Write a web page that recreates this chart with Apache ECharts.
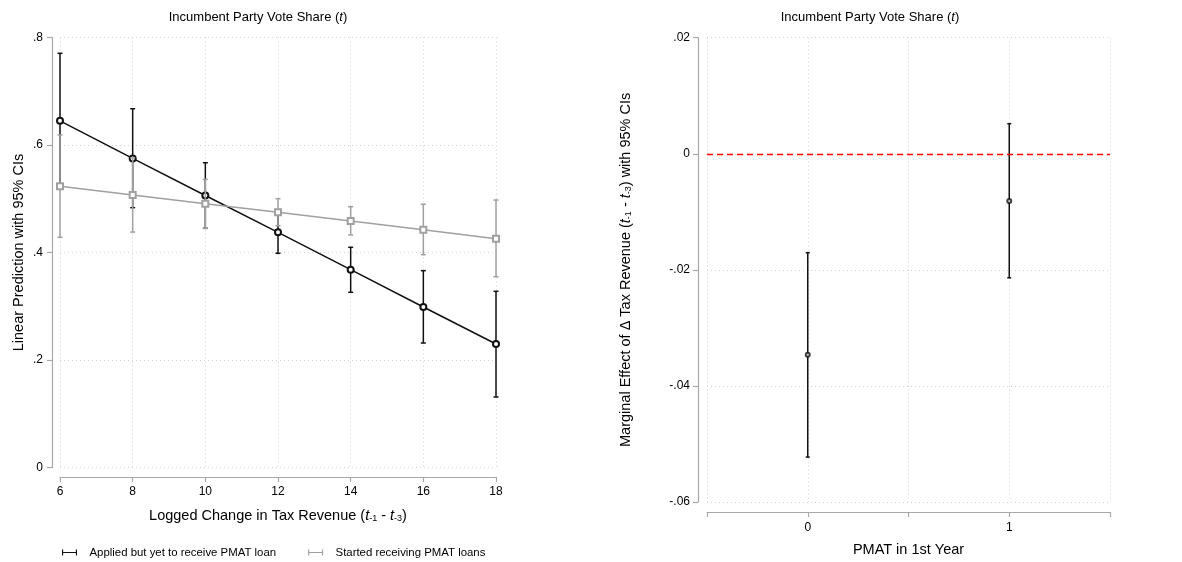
<!DOCTYPE html>
<html>
<head>
<meta charset="utf-8">
<script src="https://cdn.jsdelivr.net/npm/echarts@6/dist/echarts.min.js"></script>
<style>html,body{margin:0;padding:0;background:#fff}#c{width:1182px;height:562px}</style>
</head>
<body>
<div id="c"></div>
<script>
// ---- Left panel data ----
const leftX = [6, 8, 10, 12, 14, 16, 18];
const appliedMean = [0.645, 0.575, 0.506, 0.4375, 0.368, 0.2986, 0.2298];
const appliedLow  = [0.519, 0.4834, 0.445, 0.3985, 0.326, 0.2316, 0.1312];
const appliedHigh = [0.7706, 0.6675, 0.567, 0.4765, 0.4097, 0.3662, 0.3278];
const startedMean = [0.5231, 0.507, 0.4908, 0.4748, 0.4586, 0.4425, 0.4257];
const startedLow  = [0.4283, 0.438, 0.445, 0.4499, 0.4326, 0.3959, 0.355];
const startedHigh = [0.6186, 0.576, 0.536, 0.5001, 0.4852, 0.4897, 0.4977];
const leftYLabels = ['0', '.2', '.4', '.6', '.8'];
const seriesNames = ['Applied but yet to receive PMAT loan', 'Started receiving PMAT loans'];

// ---- Right panel data ----
const rightX = [0, 1];
const effMean = [-0.03465, -0.00815];
const effLow  = [-0.05226, -0.02137];
const effHigh = [-0.01704, 0.00518];
const rightYLabels = ['-.06', '-.04', '-.02', '0', '.02'];
const rightXLabels = {'0': '0', '1': '1'};

const FONT = 'Arial, "Liberation Sans", sans-serif';
const AXIS_GRAY = '#a8a8a8';
const GRID_GRAY = '#d0d0d0';
const BLACK = '#111111';
const GRAY = '#a0a0a0';
const NAME_SIZE = 14.5;

function errRender(color, cap, lw) {
  return function (params, api) {
    const x = api.value(0), lo = api.value(1), hi = api.value(2);
    const a = api.coord([x, hi]), b = api.coord([x, lo]);
    const st = {stroke: color, lineWidth: lw};
    return {type: 'group', children: [
      {type: 'line', shape: {x1: a[0], y1: a[1], x2: b[0], y2: b[1]}, style: st},
      {type: 'line', shape: {x1: a[0] - cap, y1: a[1], x2: a[0] + cap, y2: a[1]}, style: st},
      {type: 'line', shape: {x1: b[0] - cap, y1: b[1], x2: b[0] + cap, y2: b[1]}, style: st}
    ]};
  };
}
const zip3 = (x, lo, hi) => x.map((v, i) => [v, lo[i], hi[i]]);
const zip2 = (x, y) => x.map((v, i) => [v, y[i]]);

const richSub = {
  it: {fontStyle: 'italic', fontSize: NAME_SIZE, fontFamily: FONT, color: '#000'},
  sub: {fontSize: 9, fontFamily: FONT, color: '#000', verticalAlign: 'bottom', lineHeight: 12},
};
const capIcon = 'path://M0,0H1.5V8H0Z M1.5,3.25H18.5V4.75H1.5Z M18.5,0H20V8H18.5Z';

const axisCommon = {
  axisLine: {show: true, onZero: false, lineStyle: {color: AXIS_GRAY, width: 1.2}},
  axisTick: {show: true, length: 5, lineStyle: {color: AXIS_GRAY, width: 1.2}},
  splitLine: {show: true, lineStyle: {color: GRID_GRAY, type: [1, 3], width: 1}},
  axisLabel: {color: '#000', fontSize: 12, fontFamily: FONT},
  nameTextStyle: {color: '#000', fontSize: NAME_SIZE, fontFamily: FONT, rich: richSub},
};
const titleStyle = {fontSize: 13, fontWeight: 'normal', color: '#000', fontFamily: FONT,
  rich: {it: {fontStyle: 'italic', fontSize: 13, fontFamily: FONT, color: '#000'}}};

const option = {
  backgroundColor: '#fff',
  animation: false,
  title: [
    {text: 'Incumbent Party Vote Share ({it|t})', left: 253, top: 6, textAlign: 'center', textStyle: titleStyle},
    {text: 'Incumbent Party Vote Share ({it|t})', left: 865, top: 6, textAlign: 'center', textStyle: titleStyle}
  ],
  legend: {
    left: 62, top: 547, padding: 0, itemWidth: 20, itemHeight: 6, itemGap: 32,
    textStyle: {fontSize: 11.4, color: '#000', fontFamily: FONT, padding: [0, 0, 0, 5]},
    data: [
      {name: seriesNames[0], icon: capIcon, itemStyle: {color: BLACK, borderWidth: 0}},
      {name: seriesNames[1], icon: capIcon, itemStyle: {color: GRAY, borderWidth: 0}}
    ],
    selectedMode: false
  },
  grid: [
    {left: 60, top: 37.5, width: 436, height: 430},
    {left: 707, top: 37.7, width: 403, height: 468}
  ],
  xAxis: [
    Object.assign({}, axisCommon, {
      gridIndex: 0, type: 'value', min: 6, max: 18, interval: 2, offset: 9.5,
      name: 'Logged Change in Tax Revenue ({it|t}{sub|-1} - {it|t}{sub|-3})',
      nameLocation: 'middle', nameGap: 31,
      axisLabel: Object.assign({}, axisCommon.axisLabel, {margin: 9})
    }),
    Object.assign({}, axisCommon, {
      gridIndex: 1, type: 'value', min: -0.5, max: 1.5, interval: 0.5, offset: 10,
      name: 'PMAT in 1st Year', nameLocation: 'middle', nameGap: 30,
      axisLabel: Object.assign({}, axisCommon.axisLabel, {margin: 10,
        formatter: v => (rightXLabels[String(v)] !== undefined ? rightXLabels[String(v)] : '')})
    })
  ],
  yAxis: [
    Object.assign({}, axisCommon, {
      gridIndex: 0, type: 'value', min: 0, max: 0.8, interval: 0.2, offset: 8,
      name: 'Linear Prediction with 95% CIs', nameLocation: 'middle', nameGap: 26,
      axisLabel: Object.assign({}, axisCommon.axisLabel, {margin: 9,
        formatter: v => leftYLabels[Math.round(v / 0.2)]})
    }),
    Object.assign({}, axisCommon, {
      gridIndex: 1, type: 'value', min: -0.06, max: 0.02, interval: 0.02, offset: 9,
      name: 'Marginal Effect of \u0394 Tax Revenue ({it|t}{sub|-1} - {it|t}{sub|-3}) with 95% CIs',
      nameLocation: 'middle', nameGap: 65,
      axisLabel: Object.assign({}, axisCommon.axisLabel, {margin: 8,
        formatter: v => rightYLabels[Math.round((v + 0.06) / 0.02)]})
    })
  ],
  series: [
    {type: 'custom', name: seriesNames[0], xAxisIndex: 0, yAxisIndex: 0,
     data: zip3(leftX, appliedLow, appliedHigh), encode: {x: 0, y: [1, 2]},
     itemStyle: {color: BLACK}, renderItem: errRender(BLACK, 2.5, 1.5), z: 2},
    {type: 'line', name: 'appliedLine', xAxisIndex: 0, yAxisIndex: 0,
     data: zip2(leftX, appliedMean), symbol: 'emptyCircle', symbolSize: 6,
     lineStyle: {color: BLACK, width: 1.5}, itemStyle: {color: BLACK, borderWidth: 1.5}, z: 3},
    {type: 'custom', name: seriesNames[1], xAxisIndex: 0, yAxisIndex: 0,
     data: zip3(leftX, startedLow, startedHigh), encode: {x: 0, y: [1, 2]},
     itemStyle: {color: GRAY}, renderItem: errRender(GRAY, 2.5, 1.5), z: 4},
    {type: 'line', name: 'startedLine', xAxisIndex: 0, yAxisIndex: 0,
     data: zip2(leftX, startedMean), symbol: 'emptyRect', symbolSize: 6,
     lineStyle: {color: GRAY, width: 1.5}, itemStyle: {color: GRAY, borderWidth: 1.5}, z: 5},
    {type: 'custom', name: 'effErr', xAxisIndex: 1, yAxisIndex: 1,
     data: zip3(rightX, effLow, effHigh), encode: {x: 0, y: [1, 2]},
     itemStyle: {color: BLACK}, renderItem: errRender(BLACK, 2, 1.5), z: 3,
     markLine: {silent: true, symbol: 'none', label: {show: false},
       lineStyle: {color: '#ff0000', type: [6, 4], width: 1.3},
       data: [{yAxis: 0}]}},
    {type: 'scatter', name: 'effPoint', xAxisIndex: 1, yAxisIndex: 1,
     data: zip2(rightX, effMean), symbol: 'emptyCircle', symbolSize: 4,
     itemStyle: {color: BLACK, borderWidth: 1.3}, z: 4}
  ]
};

const chart = echarts.init(document.getElementById('c'), null, {renderer: 'canvas'});
chart.setOption(option);
</script>
</body>
</html>
